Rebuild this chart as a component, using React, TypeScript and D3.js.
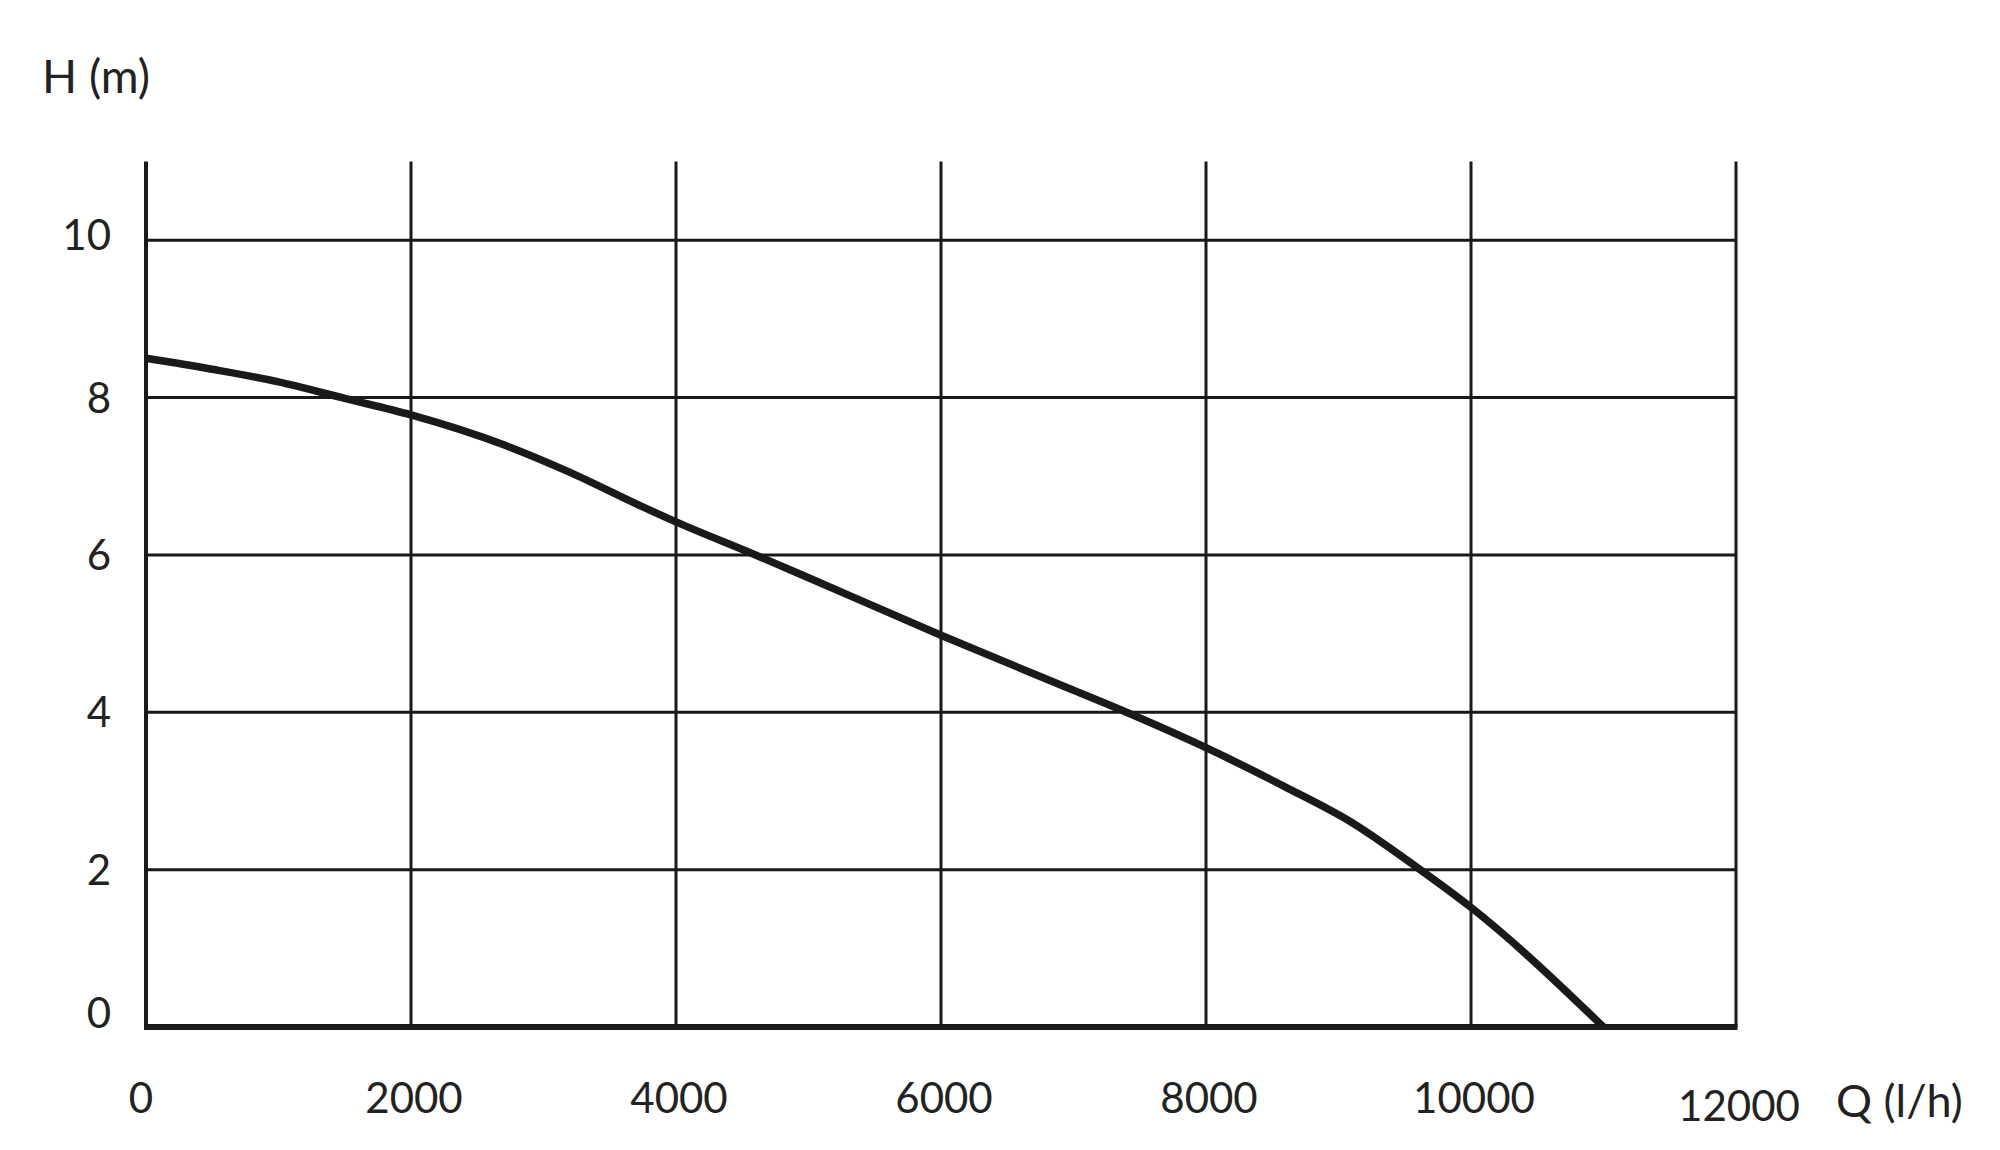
import React, { useEffect, useRef } from 'react';
import * as d3 from 'd3';

// flow rate Q (l/h) and head H (m)
const flowValues = [0, 500, 1000, 1500, 2000, 2700, 3200, 3700, 4000, 4600, 5000, 6000, 7000, 7400, 8000, 8600, 9100, 9600, 10000, 11000];
const headValues = [8.5, 8.36, 8.2, 7.99, 7.78, 7.4, 7.05, 6.65, 6.42, 6.0, 5.71, 4.98, 4.28, 4.0, 3.55, 3.05, 2.6, 2.02, 1.52, 0];

const xTicks = [0, 2000, 4000, 6000, 8000, 10000, 12000];
const yTicks = [0, 2, 4, 6, 8, 10];

const App = () => {
  const svgRef = useRef(null);

  useEffect(() => {
    const svg = d3.select(svgRef.current)
      .attr('width', 2000)
      .attr('height', 1150);

    svg.selectAll('*').remove();

    const font = 'Lato, "Open Sans", sans-serif';
    const ink = '#1a1a1a';

    const x = d3.scaleLinear().domain([0, 12000]).range([146, 1736]);
    const y = d3.scaleLinear().domain([0, 11]).range([1027, 161.6]);

    const g = svg.append('g');

    // horizontal grid
    g.selectAll('line.h')
      .data(yTicks.filter(d => d > 0))
      .enter()
      .append('line')
      .attr('class', 'h')
      .attr('x1', x(0))
      .attr('x2', x(12000))
      .attr('y1', d => y(d))
      .attr('y2', d => y(d))
      .attr('stroke', ink)
      .attr('stroke-width', 3);

    // vertical grid
    g.selectAll('line.v')
      .data(xTicks)
      .enter()
      .append('line')
      .attr('class', 'v')
      .attr('x1', d => x(d))
      .attr('x2', d => x(d))
      .attr('y1', y(11))
      .attr('y2', y(0))
      .attr('stroke', ink)
      .attr('stroke-width', d => (d === 0 ? 4 : 3));

    // baseline
    g.append('line')
      .attr('x1', x(0) - 2)
      .attr('x2', x(12000) + 1.5)
      .attr('y1', y(0))
      .attr('y2', y(0))
      .attr('stroke', ink)
      .attr('stroke-width', 6);

    // curve
    const line = d3.line()
      .x(d => x(d[0]))
      .y(d => y(d[1]))
      .curve(d3.curveMonotoneX);

    g.append('path')
      .datum(flowValues.map((q, i) => [q, headValues[i]]))
      .attr('d', line)
      .attr('fill', 'none')
      .attr('stroke', ink)
      .attr('stroke-width', 7.5);

    // y tick labels
    svg.selectAll('text.yl')
      .data(yTicks)
      .enter()
      .append('text')
      .attr('class', 'yl')
      .attr('x', 111)
      .attr('y', d => (d === 0 ? y(0) - 14 : d === 10 ? y(d) - 5 : y(d)))
      .attr('dy', '0.36em')
      .attr('text-anchor', 'end')
      .style('font-family', font)
      .style('font-size', '42px')
      .style('fill', '#222')
      .text(d => d);

    // x tick labels
    svg.selectAll('text.xl')
      .data(xTicks)
      .enter()
      .append('text')
      .attr('class', 'xl')
      .attr('x', d => (d === 0 ? x(d) - 5 : x(d) + 3))
      .attr('y', d => (d === 12000 ? 1121 : 1113))
      .attr('text-anchor', 'middle')
      .style('font-family', font)
      .style('font-size', '42px')
      .style('fill', '#222')
      .text(d => d);

    svg.append('text')
      .attr('x', 42)
      .attr('y', 93)
      .style('font-family', font)
      .style('font-size', '46px')
      .style('fill', '#222')
      .text('H (m)');

    svg.append('text')
      .attr('x', 1836)
      .attr('y', 1117)
      .style('font-family', font)
      .style('font-size', '45px')
      .style('fill', '#222')
      .text('Q (l/h)');
  }, []);

  return <svg ref={svgRef} style={{ position: 'absolute', left: 0, top: 0, background: '#fff' }}></svg>;
};

export default App;
